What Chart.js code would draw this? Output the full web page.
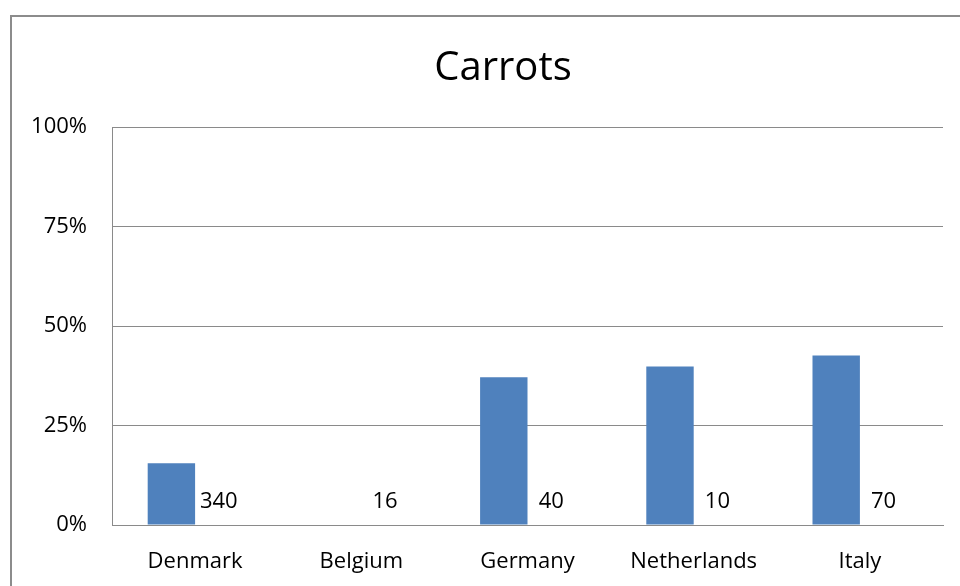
<!DOCTYPE html>
<html>
<head>
<meta charset="utf-8">
<script src="https://cdn.jsdelivr.net/npm/chart.js@4"></script>
<style>
  html, body { margin: 0; padding: 0; background: #fff; overflow: hidden; }
</style>
</head>
<body>
<canvas id="carrotChart" width="960" height="586"></canvas>
<script>
// data
var countries = ['Denmark', 'Belgium', 'Germany', 'Netherlands', 'Italy'];
var shares = [15.5, 0, 37.1, 39.8, 42.6];   // percent
var counts = [340, 16, 40, 10, 70];         // labels shown next to the bars
var yTicks = [0, 25, 50, 75, 100];
var chartTitle = 'Carrots';

var FONT = '"Open Sans", Lato, sans-serif';
var GRID = '#8a8a8a';

// outer frame of the chart object, runs off the page on right and bottom
// plus the title, centred on that frame rather than on the plot
var framePlugin = {
    id: 'frame',
    beforeDraw: function (chart) {
        var c = chart.ctx;
        c.save();
        c.strokeStyle = '#8c8c8c';
        c.lineWidth = 2;
        c.strokeRect(11, 16, 1200, 1200);
        c.font = '40px ' + FONT;
        c.fillStyle = '#000';
        c.textAlign = 'center';
        c.textBaseline = 'alphabetic';
        c.fillText(chartTitle, 503, 80);
        c.restore();
    }
};

// count labels drawn where the second (empty) series sits
var countLabels = {
    id: 'countLabels',
    afterDatasetsDraw: function (chart) {
        var meta = chart.getDatasetMeta(1);
        var base = chart.scales.y.getPixelForValue(0);
        var c = chart.ctx;
        c.save();
        c.font = '22px ' + FONT;
        c.fillStyle = '#000';
        c.textAlign = 'center';
        c.textBaseline = 'alphabetic';
        meta.data.forEach(function (bar, i) {
            c.fillText(String(counts[i]), bar.x, base - 17);
        });
        c.restore();
    }
};

var ctx = document.getElementById('carrotChart').getContext('2d');
var chart = new Chart(ctx, {
    type: 'bar',
    data: {
        labels: countries,
        datasets: [{
            label: 'Share',
            data: shares,
            backgroundColor: '#4F81BD',
            borderWidth: 0
        }, {
            label: 'Count',
            data: countries.map(function () { return 0; }),
            backgroundColor: 'rgba(0,0,0,0)',
            borderWidth: 0
        }]
    },
    options: {
        responsive: false,
        animation: false,
        categoryPercentage: 0.5705,
        barPercentage: 1,
        layout: { padding: { left: 0, right: 17, top: 127, bottom: 0 } },
        plugins: {
            legend: { display: false },
            tooltip: { enabled: false },
            title: { display: false }
        },
        scales: {
            x: {
                grid: { display: false, drawTicks: false },
                border: { display: true, color: GRID },
                ticks: {
                    color: '#000',
                    padding: 24,
                    font: { family: FONT, size: 22 }
                },
                afterFit: function (s) { s.height = 61; }
            },
            y: {
                min: 0,
                max: 100,
                afterBuildTicks: function (s) {
                    s.ticks = yTicks.map(function (v) { return { value: v }; });
                },
                grid: { color: GRID, drawTicks: false },
                border: { display: true, color: GRID },
                ticks: {
                    color: '#000',
                    padding: 25,
                    font: { family: FONT, size: 22 },
                    callback: function (v) { return v + '%'; }
                },
                afterFit: function (s) { s.width = 112; }
            }
        }
    },
    plugins: [framePlugin, countLabels]
});
</script>
</body>
</html>
